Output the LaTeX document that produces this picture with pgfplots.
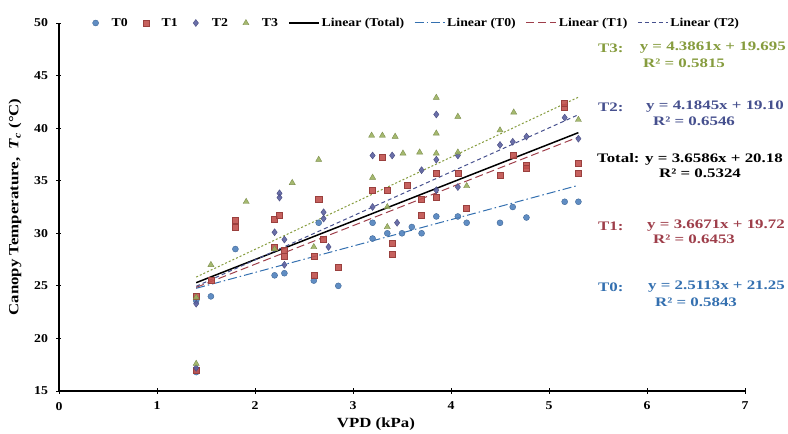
\documentclass[border=0pt]{standalone}
\usepackage{pgfplots}
\pgfplotsset{compat=1.18}
\usepackage{fontspec}
\setmainfont{Liberation Serif}
\newfontfamily\eqfont{Liberation Serif}[FakeStretch=1.3]
\newfontfamily\labfont{Liberation Serif}[FakeStretch=1.2]
\newfontfamily\legfont{Liberation Serif}[FakeStretch=1.15]
\newfontfamily\tickfont{Liberation Serif}[FakeStretch=1.15]
\definecolor{cT0}{HTML}{4F81BD}
\definecolor{cT1}{HTML}{C0504D}
\definecolor{cT2}{HTML}{5A5FA0}
\definecolor{cT3}{HTML}{9BB15F}
\definecolor{eT0}{HTML}{3470B0}
\definecolor{eT1}{HTML}{9E3E4A}
\definecolor{eT2}{HTML}{46508E}
\definecolor{eT3}{HTML}{869C3E}
\begin{document}
\begin{tikzpicture}[x=1pt,y=1pt]
\useasboundingbox (-59,-43) rectangle (729,391);
\begin{axis}[
  at={(0,0)}, anchor=origin,
  scale only axis, width=686pt, height=368pt,
  xmin=0, xmax=7, ymin=15, ymax=50,
  xtick={0,1,...,7}, ytick={15,20,...,50},
  axis x line*=bottom, axis y line*=left,
  axis line style={line width=1.2pt, black},
  tick align=center, major tick length=5pt,
  tick style={black, line width=0.8pt},
  /pgf/number format/assume math mode=true,
  ticklabel style={font=\tickfont\fontsize{12}{14}\selectfont\bfseries},
  xticklabel style={yshift=-5pt},
  yticklabel style={xshift=-5pt},
  xlabel={\textbf{VPD (kPa)}},
  ylabel={\textbf{Canopy Temperature,\ \ \textit{T}\textsubscript{\textit{c}} (°C)}},
  label style={font=\labfont\fontsize{14}{16}\selectfont},
  xlabel style={at={(axis description cs:0.462,-0.09)}, anchor=center},
  ylabel style={at={(axis description cs:-0.064,0.5)}, anchor=center},
  clip=false,
  legend columns=-1,
  legend style={draw=none, fill=none, at={(0.04,1.0)}, anchor=west,
    font=\legfont\fontsize{12}{14}\selectfont\bfseries,
    /tikz/every even column/.append style={column sep=8pt},
    inner sep=1pt},
  legend cell align=left,
]
\pgfplotsset{
  markleg/.style={legend image code/.code={\path[draw=none, fill=none] (0pt,-3pt) rectangle (22pt,3pt); \draw[##1, mark repeat=2, mark phase=2] plot coordinates {(0pt,0pt) (8pt,0pt) (22pt,0pt)};}},
  lineleg/.style={legend image code/.code={\draw[##1] (0pt,0pt) -- (30pt,0pt);}},
}
\addplot[only marks, markleg, mark=*, mark size=3pt, mark options={draw=cT0!80!black, fill=cT0, fill opacity=0.9}] coordinates {
(1.4,23.6) (1.4,16.8) (1.55,24.0) (1.8,28.5) (2.2,26.0) (2.3,26.2) (2.6,25.5) (2.65,31.0) (2.85,25.0)
(3.2,29.5) (3.2,31.0) (3.35,30.0) (3.5,30.0) (3.6,30.6) (3.7,30.0) (3.85,31.6) (4.07,31.6) (4.16,31.0)
(4.5,31.0) (4.63,32.5) (4.77,31.5) (5.16,33.0) (5.3,33.0)
};
\addlegendentry{T0}
\addplot[only marks, markleg, mark=square*, mark size=3pt, mark options={draw=cT1!80!black, fill=cT1, fill opacity=0.9}] coordinates {
(1.4,24.0) (1.4,17.0) (1.55,25.5) (1.8,31.2) (1.8,30.6) (2.2,31.3) (2.25,31.7) (2.2,28.7) (2.3,28.4)
(2.3,27.8) (2.6,27.8) (2.6,26.0) (2.65,33.2) (2.7,29.4) (2.85,26.8) (3.2,34.1) (3.3,37.2) (3.35,34.1)
(3.4,29.1) (3.4,28.0) (3.55,34.6) (3.7,31.7) (3.7,33.2) (3.85,35.7) (3.85,33.4) (4.07,35.7) (4.16,32.4)
(4.5,35.5) (4.63,37.4) (4.77,36.5) (4.77,36.2) (5.16,42.0) (5.16,42.4) (5.3,36.7) (5.3,35.7)
};
\addlegendentry{T1}
\addplot[only marks, markleg, mark=diamond*, mark size=3.5pt, mark options={draw=cT2!80!black, fill=cT2, fill opacity=0.9}] coordinates {
(1.4,23.3) (1.4,17.2) (2.2,30.1) (2.25,33.8) (2.25,33.4) (2.3,29.4) (2.3,27.0) (2.7,32.0) (2.7,31.4)
(2.75,28.7) (3.2,32.5) (3.2,37.4) (3.4,37.4) (3.45,31.0) (3.7,36.0) (3.85,41.3) (3.85,37.0) (4.07,37.4)
(4.5,38.4) (4.63,38.7) (4.77,39.2) (5.16,41.0) (5.3,39.0) (3.85,34.1) (4.07,34.4)
};
\addlegendentry{T2}
\addplot[only marks, markleg, mark=triangle*, mark size=3.5pt, mark options={draw=cT3!80!black, fill=cT3, fill opacity=0.9}] coordinates {
(1.4,23.9) (1.4,17.6) (1.55,27.0) (1.91,33.0) (2.2,28.5) (2.38,34.8) (2.65,37.0) (2.6,28.7) (3.19,39.3)
(3.3,39.3) (3.43,39.2) (3.2,35.3) (3.35,32.5) (3.51,37.6) (3.68,37.7) (3.85,42.9) (3.85,39.5) (3.85,37.6)
(4.07,41.1) (4.07,37.7) (4.16,34.5) (4.5,39.8) (4.64,41.5) (5.3,40.8) (3.35,30.6)
};
\addlegendentry{T3}
\addplot[black, lineleg, line width=1.5pt, no marks] coordinates {(1.4,25.302) (5.3,39.571)};
\addlegendentry{Linear (Total)}
\addplot[eT0, lineleg, line width=1pt, no marks, dash pattern=on 9pt off 3pt on 1.5pt off 3pt] coordinates {(1.4,24.766) (5.3,34.560)};
\addlegendentry{Linear (T0)}
\addplot[eT1, lineleg, line width=1pt, no marks, dash pattern=on 8pt off 4pt] coordinates {(1.4,24.854) (5.3,39.156)};
\addlegendentry{Linear (T1)}
\addplot[eT2, lineleg, line width=1pt, no marks, dash pattern=on 4pt off 3pt] coordinates {(1.4,24.958) (5.3,41.278)};
\addlegendentry{Linear (T2)}
\addplot[eT3, line width=1pt, no marks, dash pattern=on 2pt off 2pt] coordinates {(1.4,25.836) (5.3,42.941)};
\end{axis}
\begin{scope}[font=\eqfont\fontsize{13}{15}\selectfont\bfseries]
\node[eT3, anchor=west, inner sep=0pt] at (598-59,391-48) {T3:};
\node[eT3, anchor=east, inner sep=0pt] at (786-59,391-48) {y = 4.3861x + 19.695};
\node[eT3, inner sep=0pt] at (684-59,391-63) {R² = 0.5815};
\node[eT2, anchor=west, inner sep=0pt] at (598-59,391-107) {T2:};
\node[eT2, anchor=east, inner sep=0pt] at (784-59,391-107) {y = 4.1845x + 19.10};
\node[eT2, inner sep=0pt] at (694-59,391-121) {R² = 0.6546};
\node[black, anchor=east, inner sep=0pt] at (783-59,391-159) {Total: y = 3.6586x + 20.18};
\node[black, inner sep=0pt] at (700-59,391-173) {R² = 0.5324};
\node[eT1, anchor=west, inner sep=0pt] at (598-59,391-226) {T1:};
\node[eT1, anchor=east, inner sep=0pt] at (785-59,391-226) {y = 3.6671x + 19.72};
\node[eT1, inner sep=0pt] at (694-59,391-239) {R² = 0.6453};
\node[eT0, anchor=west, inner sep=0pt] at (598-59,391-287) {T0:};
\node[eT0, anchor=east, inner sep=0pt] at (785-59,391-287) {y = 2.5113x + 21.25};
\node[eT0, inner sep=0pt] at (696-59,391-302) {R² = 0.5843};
\end{scope}
\end{tikzpicture}
\end{document}
